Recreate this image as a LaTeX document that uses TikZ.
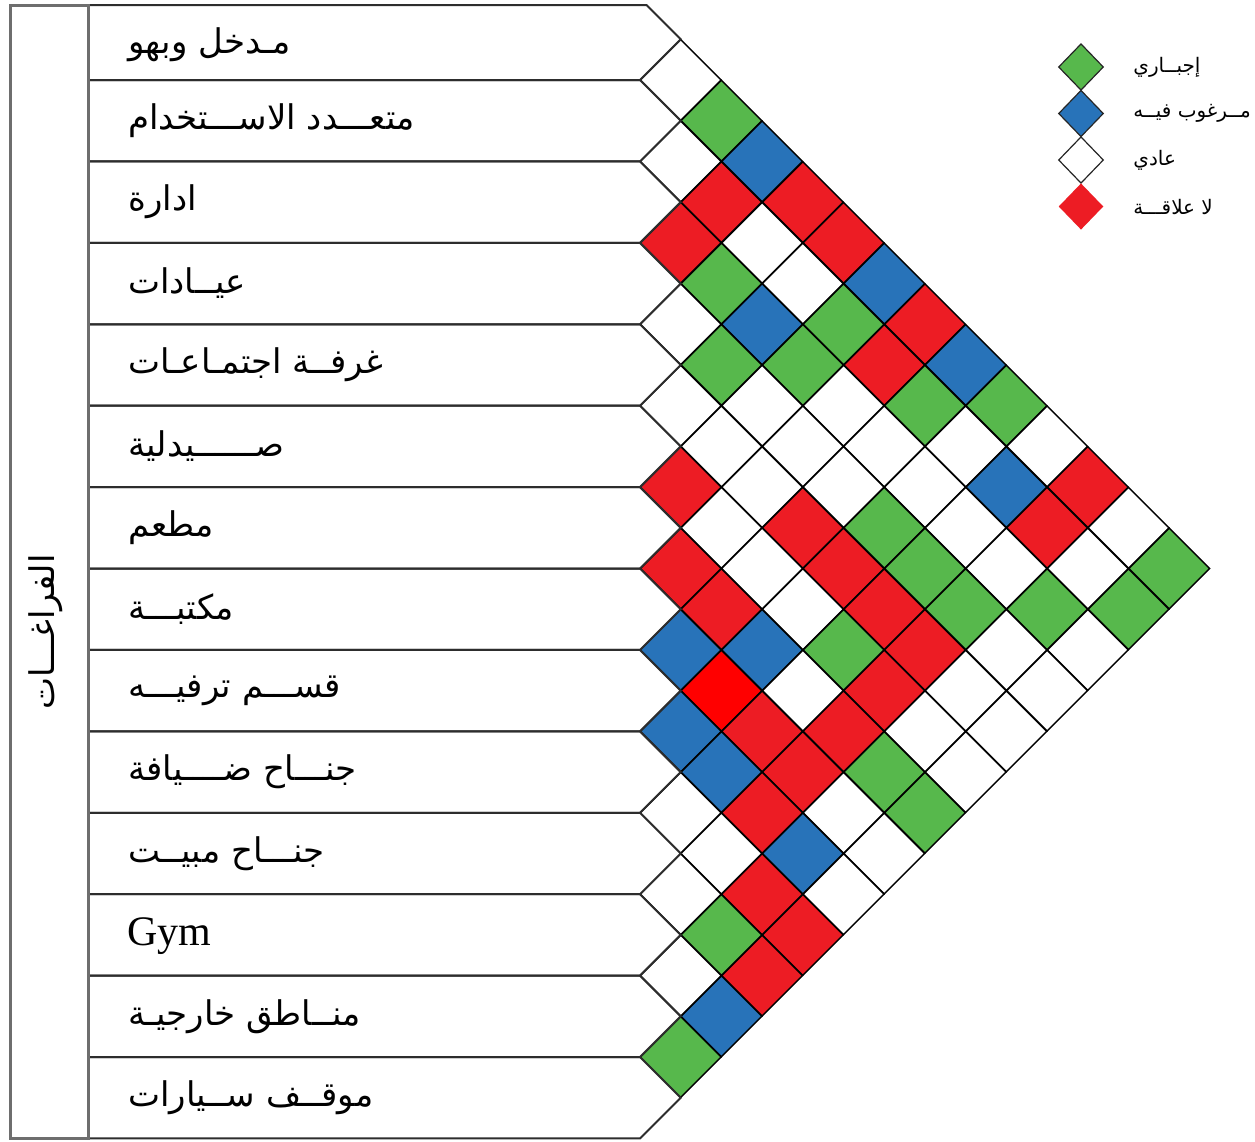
\documentclass[tikz,border=0pt]{standalone}
\usepackage{fontspec}
\usetikzlibrary{shapes.geometric}
\TeXXeTstate=1
\newfontfamily\arabicfont[Script=Arabic]{DejaVu Sans}
\newfontfamily\latinserif{Liberation Serif}
\definecolor{cgreen}{RGB}{87,184,76}
\definecolor{cblue}{RGB}{40,115,185}
\definecolor{cred}{RGB}{237,28,36}
\definecolor{cbright}{RGB}{255,0,0}
\definecolor{rowline}{RGB}{45,45,45}
\definecolor{frameline}{RGB}{110,110,110}
\foreach \i/\j/\c in {2/3/cred,5/6/cred,6/7/cred,7/8/cblue,8/9/cblue,12/13/cgreen,
 0/2/cgreen,1/3/cred,2/4/cgreen,3/5/cgreen,6/8/cred,7/9/cbright,8/10/cblue,10/12/cgreen,11/13/cblue,
 0/3/cblue,2/5/cblue,6/9/cblue,7/10/cred,8/11/cred,9/12/cred,10/13/cred,
 0/4/cred,2/6/cgreen,4/8/cred,7/11/cred,8/12/cblue,9/13/cred,
 0/5/cred,1/6/cgreen,4/9/cred,5/10/cgreen,6/11/cred,
 0/6/cblue,1/7/cred,3/9/cgreen,4/10/cred,5/11/cred,6/12/cgreen,
 0/7/cred,1/8/cgreen,3/10/cgreen,4/11/cred,6/13/cgreen,
 0/8/cblue,3/11/cgreen,0/9/cgreen,1/10/cblue,1/11/cred,2/12/cgreen,
 0/11/cred,1/13/cgreen,0/13/cgreen}{\expandafter\xdef\csname cellcol-\i-\j\endcsname{\c}}
\begin{document}
\begin{tikzpicture}[x=0.5pt,y=-0.5pt,
  cellbox/.style={diamond,draw=black,line width=0.7pt,inner sep=0pt,
    minimum width=40.71pt,minimum height=40.71pt},
  rowedge/.style={draw=rowline,line width=1pt,line join=miter},
  frame/.style={draw=frameline,line width=1.5pt},
  rowlabel/.style={anchor=west,inner sep=0pt,font=\arabicfont\fontsize{17}{20}\selectfont},
  legbox/.style={diamond,draw=black!85,line width=0.6pt,inner sep=0pt,
    minimum width=22.5pt,minimum height=23.3pt},
  legtext/.style={anchor=west,inner sep=0pt,font=\arabicfont\fontsize{10}{12}\selectfont}]
\useasboundingbox (0,0) rectangle (1255,1142);
\fill[white] (0,0) rectangle (1255,1142);
% cells
\foreach \i in {0,...,12}{
  \pgfmathtruncatemacro\js{\i+1}
  \foreach \j in {\js,...,13}{
    \ifcsname cellcol-\i-\j\endcsname
      \edef\cc{\csname cellcol-\i-\j\endcsname}%
    \else
      \def\cc{white}%
    \fi
    \node[cellbox,fill=\cc] (cell-\i-\j) at ({640+(\j-\i)*40.71},{80+81.42*((\i+\j)/2-0.5)}) {};
  }
}
% rows
\foreach \i in {0,...,13}{
  \pgfmathsetmacro\tp{80+81.42*(\i-1)}
  \pgfmathsetmacro\bt{80+81.42*\i}
  \pgfmathsetmacro\md{80+81.42*(\i-0.5)}
  \ifnum\i=0
    \draw[rowedge] (88,5) -- (646.42,5) -- (680.71,\md) -- (640,\bt) -- (88,\bt);
  \else
    \draw[rowedge] (88,\tp) -- (640,\tp) -- (680.71,\md) -- (640,\bt) -- (88,\bt);
  \fi
}
% frame of the left column
\draw[frame] (10,5) rectangle (88,1138.46);
\node[rotate=90,inner sep=0pt,font=\arabicfont\fontsize{17}{20}\selectfont] (side) at (46,632) {\beginR الفراغـــات\endR};
% labels
\node[rowlabel] (label-0) at (128,45) {\beginR مـدخل وبهو\endR};
\node[rowlabel] (label-1) at (128,120.7) {\beginR متعـــدد الاســـتخدام\endR};
\node[rowlabel] (label-2) at (128,202.1) {\beginR ادارة\endR};
\node[rowlabel] (label-3) at (128,283.5) {\beginR عيــادات\endR};
\node[rowlabel] (label-4) at (128,365.0) {\beginR غرفــة اجتمـاعـات\endR};
\node[rowlabel] (label-5) at (128,446.4) {\beginR صــــــيدلية\endR};
\node[rowlabel] (label-6) at (128,527.8) {\beginR مطعم\endR};
\node[rowlabel] (label-7) at (128,609.2) {\beginR مكتبـــة\endR};
\node[rowlabel] (label-8) at (128,690.6) {\beginR قســـم ترفيـــه\endR};
\node[rowlabel] (label-9) at (128,772.0) {\beginR جنـــاح ضــــيافة\endR};
\node[rowlabel] (label-10) at (128,853.5) {\beginR جنـــاح مبيــت\endR};
\node[anchor=west,inner sep=0pt,font=\latinserif\fontsize{21}{24}\selectfont] (label-11) at (127,936) {Gym};
\node[rowlabel] (label-12) at (128,1016.3) {\beginR منــاطق خارجيـة\endR};
\node[rowlabel] (label-13) at (128,1097.7) {\beginR موقــف ســيارات\endR};
% legend
\node[legbox,fill=cgreen] (leg-g) at (1081,67) {};
\node[legbox,fill=cblue] (leg-b) at (1081,113.5) {};
\node[legbox,fill=white] (leg-w) at (1081,160) {};
\node[legbox,fill=cred,draw=none] (leg-r) at (1081,206.5) {};
\node[legtext] (legt-g) at (1133,67) {\beginR إجبــاري\endR};
\node[legtext] (legt-b) at (1133,113.5) {\beginR مــرغوب فيــه\endR};
\node[legtext] (legt-w) at (1133,160) {\beginR عادي\endR};
\node[legtext] (legt-r) at (1133,206.5) {\beginR لا علاقـــة\endR};
\end{tikzpicture}
\end{document}
